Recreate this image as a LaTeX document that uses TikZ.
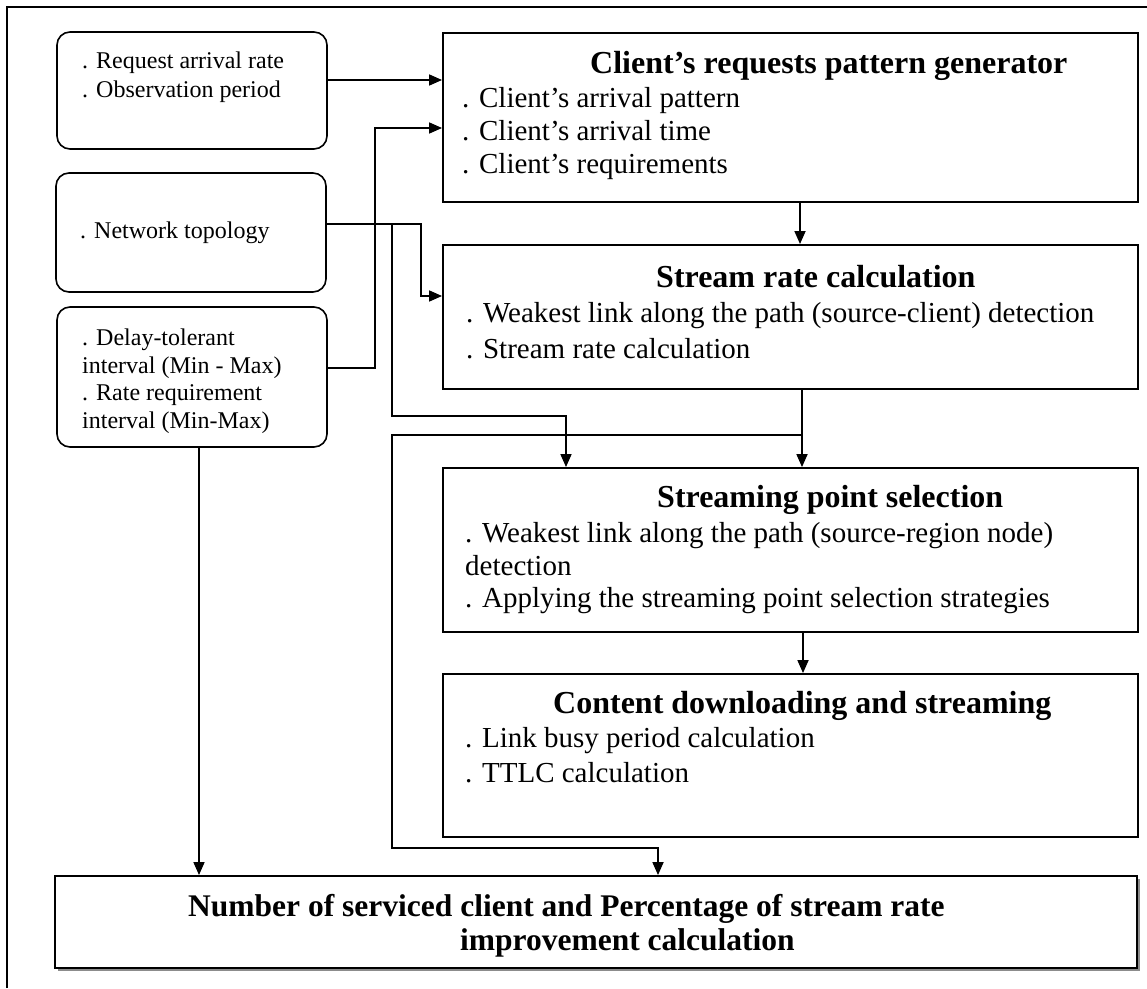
\documentclass[tikz,border=0pt]{standalone}
\usepackage{fontspec}
\setmainfont{Liberation Serif}
\usetikzlibrary{arrows.meta,shadows}

\begin{document}
\begin{tikzpicture}[x=1pt,y=-1pt,
  box/.style={draw, line width=1.9pt, inner sep=0pt, fill=white},
  rbox/.style={draw, line width=1.6pt, rounded corners=13pt, inner sep=0pt, fill=white},
  link/.style={line width=1.7pt},
  arr/.style={link, -{Triangle[length=13pt,width=11pt]}},
  side/.style={inner sep=0pt, anchor=base west, font=\fontsize{24}{28}\selectfont},
  body/.style={inner sep=0pt, anchor=base west, font=\fontsize{29}{33}\selectfont},
  head/.style={inner sep=0pt, anchor=base west, font=\fontsize{32}{36}\selectfont\bfseries},
  foot/.style={inner sep=0pt, anchor=base west, font=\fontsize{31.5}{36}\selectfont\bfseries},
]
\useasboundingbox (0,0) rectangle (1147,988);

% outer frame (top and left edges)
\draw[line width=1.6pt] (7,988) -- (7,7) -- (1147,7);

% input boxes on the left
\node[rbox, minimum width=270pt, minimum height=117pt] (A) at (192,90.5) {};
\node[rbox, minimum width=270pt, minimum height=119pt] (B) at (191,232.5) {};
\node[rbox, minimum width=270pt, minimum height=140pt] (C) at (192,377) {};

% processing stages
\node[box, minimum width=695pt, minimum height=169pt] (client) at (790.5,117.5) {};
\node[box, minimum width=695pt, minimum height=144pt] (stream) at (790.5,317) {};
\node[box, minimum width=695pt, minimum height=164pt] (spoint) at (790.5,550) {};
\node[box, minimum width=695pt, minimum height=163pt] (content) at (790.5,755.5) {};
\node[box, minimum width=1082pt, minimum height=92pt,
      drop shadow={shadow xshift=2.5pt, shadow yshift=-2.5pt, opacity=0.45, fill=black}] (result) at (596,922) {};

% texts of the input boxes
\node[side] (a1) at (82,68) {. Request arrival rate};
\node[side] (a2) at (82,97) {. Observation period};
\node[side] (b1) at (80,238) {. Network topology};
\node[side] (c1) at (82,345) {. Delay-tolerant};
\node[side] (c2) at (82,373) {interval (Min - Max)};
\node[side] (c3) at (82,400) {. Rate requirement};
\node[side] (c4) at (82,428) {interval (Min-Max)};

% texts of the stages
\node[head] (clientT) at (590,73) {Client’s requests pattern generator};
\node[body] (cl1) at (462,107) {. Client’s arrival pattern};
\node[body] (cl2) at (462,140) {. Client’s arrival time};
\node[body] (cl3) at (462,173) {. Client’s requirements};

\node[head] (streamT) at (656,287) {Stream rate calculation};
\node[body] (sr1) at (466,322) {. Weakest link along the path (source-client) detection};
\node[body] (sr2) at (466,358) {. Stream rate calculation};

\node[head] (spointT) at (657,507) {Streaming point selection};
\node[body] (sp1) at (465,542) {. Weakest link along the path (source-region node)};
\node[body] (sp2) at (465,575) {detection};
\node[body] (sp3) at (465,607) {. Applying the streaming point selection strategies};

\node[head] (contentT) at (553,713) {Content downloading and streaming};
\node[body] (cd1) at (465,747) {. Link busy period calculation};
\node[body] (cd2) at (465,782) {. TTLC calculation};

\node[foot] (res1) at (188,916) {Number of serviced client and Percentage of stream rate};
\node[foot] (res2) at (460,950) {improvement calculation};

% connectors
\draw[arr] ([yshift=10.5]A.east) -- ([yshift=10.5]A.east -| client.west);
\draw[arr] ([yshift=9]C.east) -- ++(47,0) |- ([yshift=-10.5]client.west);
\draw[arr] ([yshift=8.5]B.east) -- ++(94,0) |- ([yshift=21]stream.west);
\coordinate (nj) at ([xshift=65,yshift=8.5]B.east);
\draw[arr] (nj) -- ++(0,192) -| ([xshift=-224.5]spoint.north);

\draw[arr] ([xshift=9.5]client.south) -- ([xshift=9.5]stream.north);
\draw[arr] ([xshift=11.5]stream.south) -- ([xshift=11.5]spoint.north);
\path ([xshift=11.5]stream.south) ++(0,45) coordinate (sj);
\draw[arr] (sj) -- (sj -| nj) -- ++(0,413) -| ([xshift=62]result.north);
\draw[arr] ([xshift=12.5]spoint.south) -- ([xshift=12.5]content.north);
\draw[arr] ([xshift=7]C.south) -- ([xshift=7]C.south |- result.north);
\end{tikzpicture}
\end{document}
